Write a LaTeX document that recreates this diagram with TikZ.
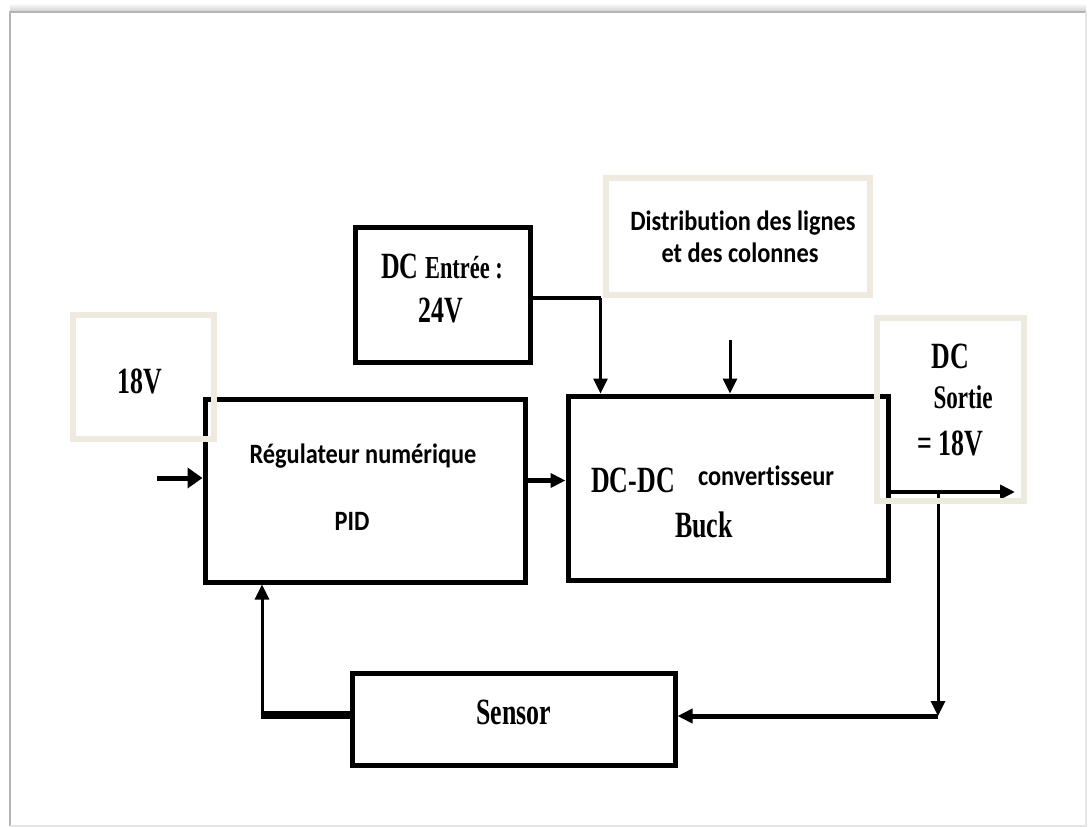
\documentclass[tikz,border=0pt]{standalone}
\usepackage{fontspec}
\setmainfont{Liberation Serif}[FakeStretch=0.70]
\newfontfamily\calibri{Carlito}[FakeStretch=0.87, Ligatures=NoCommon]
\usetikzlibrary{arrows.meta}

\definecolor{beige}{RGB}{238,234,224}
\definecolor{framegray}{RGB}{180,180,180}

\tikzset{
  blk/.style={draw, line width=5pt, inner sep=0pt},
  pale/.style={draw=beige, line width=6pt, inner sep=0pt},
  arr/.style={-{Triangle[length=15pt,width=14pt]}, line width=3pt},
  serif/.style={font=\bfseries\fontsize{37}{40}\selectfont, inner sep=0pt, anchor=base},
  serifsm/.style={font=\bfseries\fontsize{33}{36}\selectfont, inner sep=0pt, anchor=base},
  sans/.style={font=\calibri\bfseries\fontsize{28}{32}\selectfont, inner sep=0pt, anchor=base}
}

\begin{document}
\begin{tikzpicture}[x=1pt, y=-1pt]
    \useasboundingbox (0,0) rectangle (1088,827);
    % page frame
    \shade[top color=white, bottom color=gray!35] (10,3) rectangle (1086,11);
    \draw[framegray, line width=1.5pt] (1086,12) -- (10,12) -- (10,826);
    \draw[gray!20, line width=1.5pt] (10,826) -- (1086,826) -- (1086,12);

    % blocks
    \node[blk, minimum width=320pt, minimum height=183pt] (pid) at (365,490.5) {};
    \node[blk, minimum width=320pt, minimum height=184pt] (conv) at (728,488) {};
    \node[blk, minimum width=175pt, minimum height=135pt] (entree) at (442.5,294.5) {};
    \node[blk, minimum width=323pt, minimum height=92pt] (sensor) at (513.5,719) {};

    % connectors
    \coordinate (in) at (157,478);
    \draw[arr, line width=5pt, -{Triangle[length=15pt,width=20pt]}] (in) -- (in -| pid.west);
    \draw[arr, line width=4.5pt] ([yshift=10pt]pid.east) -- ([yshift=10pt]pid.east -| conv.west);
    \coordinate (ein) at ([xshift=35pt]conv.north west);
    \draw[line width=4.5pt] ([yshift=-3.5pt]entree.east) -| ([yshift=-3.5pt]entree.east -| ein);
    \draw[arr] ([yshift=-3.5pt]entree.east -| ein) -- (ein);
    \coordinate (dtop) at (730,340);
    \draw[arr] (dtop) -- (dtop |- conv.north);
    \coordinate (out) at (1015,492);
    \draw[arr, line width=4.5pt] (conv.east |- out) -- (out);
    \coordinate (br) at (938,492);
    \coordinate (brd) at (938,716);
    \draw[arr] (br) -- (brd);
    \draw[arr, line width=5pt] (brd) -- (sensor.east |- brd);
    \coordinate (fb) at (262,715);
    \draw[line width=8pt] (sensor.west |- fb) -- ([xshift=-1.5pt]fb);
    \draw[arr] ([yshift=-4pt]fb) -- (fb |- pid.south);

    % pale frames on top
    \node[pale, minimum width=141pt, minimum height=124pt] (v18) at (143.5,377) {};
    \node[pale, minimum width=264pt, minimum height=117pt] (distrib) at (738,236.5) {};
    \node[pale, minimum width=147pt, minimum height=183pt] (sortie) at (950.5,409.5) {};

    % labels
    \node[serif] (t18) at (140,393) {18V};
    \node[sans] (treg) at (363,463) {Régulateur numérique};
    \node[sans] (tpid) at (352,530) {PID};
    \node[inner sep=0pt, anchor=base, font=\bfseries] (tent) at (442,278)
        {\fontsize{37}{40}\selectfont DC \fontsize{32}{36}\selectfont Entrée :};
    \node[serif] (t24) at (441,322) {24V};
    \node[sans] (tdis) at (743,230) {Distribution des lignes};
    \node[sans] (tcol) at (740,262) {et des colonnes};
    \node[serif] (tdc) at (633,492) {DC-DC};
    \node[sans] (tconv) at (766,485) {convertisseur};
    \node[serif] (tbuck) at (704,537) {Buck};
    \node[serif] (tsdc) at (950,368) {DC};
    \node[serifsm] (tsor) at (963,408) {Sortie};
    \node[serif] (tsv) at (950,455) {= 18V};
    \node[serif] (tsen) at (514,724) {Sensor};
\end{tikzpicture}
\end{document}
